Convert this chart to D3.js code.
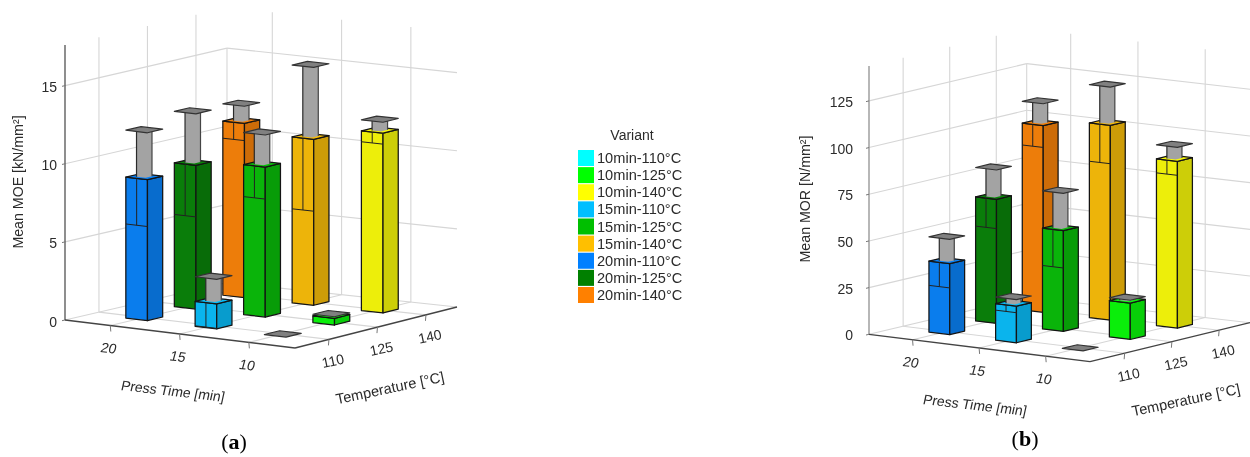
<!DOCTYPE html>
<html><head><meta charset="utf-8">
<style>html,body{margin:0;padding:0;background:#fff}svg{display:block;filter:blur(0.45px)}text{font-family:"Liberation Sans",Arial,sans-serif;fill:#2b2b2b}</style>
<script src="https://cdnjs.cloudflare.com/ajax/libs/d3/7.8.5/d3.min.js"></script>
</head><body><svg id="c" width="1250" height="457"></svg>
<script>
const pressTimes=[20,15,10];
const temperatures=[110,125,140];
const variantTimes=[10,10,10,15,15,15,20,20,20];
const variantTemps=[110,125,140,110,125,140,110,125,140];
const variantLabels=["10min-110°C","10min-125°C","10min-140°C","15min-110°C","15min-125°C","15min-140°C","20min-110°C","20min-125°C","20min-140°C"];
const variantColors=["#00ffff","#00ff00","#ffff00","#00bfff","#00bf00","#ffbf00","#0080ff","#008000","#ff8000"];
const moeMeans=[0,0.43,11.5,1.6,9.6,10.62,9.02,9.2,11.15];
const moeErrs=[0,0.1,0.7,1.57,2.05,4.6,3.0,3.3,1.1];
const morMeans=[0,19.5,89.3,19.6,54,104.3,38,66.5,100];
const morErrs=[0,1.5,7.5,3.5,20,20.5,13,15.7,11.7];
const moeTicks=[0,5,10,15];
const morTicks=[0,25,50,75,100,125];

const svg=d3.select("#c");
const gridCol="#d6d6d6",edge="#141414";
// faces are darkened and pulled slightly towards grey, as in the reference's lit 3D bars
const shade=(c,k)=>{const m=d3.rgb(d3.interpolateRgb(c,"#8a9a8a")(0.07));return d3.rgb(m.r*k,m.g*k,m.b*k).formatHex();};

function chart(o){
  const g=svg.append("g");
  const U=d3.scaleLinear().domain([23.27,6.67]).range([0,1]);
  const V=d3.scaleLinear().domain(o.tempDomain).range([0,1]);
  const Z=d3.scaleLinear().domain([0,o.zMax]).range([0,o.zPx]);
  const P=(u,v,z)=>{
    const ax=o.L[0]+u*(o.F[0]-o.L[0]),ay=o.L[1]+u*(o.F[1]-o.L[1]);
    const bx=o.B[0]+u*(o.R[0]-o.B[0]),by=o.B[1]+u*(o.R[1]-o.B[1]);
    return [ax+v*(bx-ax),ay+v*(by-ay)-Z(z)];
  };
  const line=(a,b,col,w)=>g.append("line").attr("x1",a[0]).attr("y1",a[1]).attr("x2",b[0]).attr("y2",b[1]).attr("stroke",col).attr("stroke-width",w);
  const poly=(p,f,s,w)=>g.append("polygon").attr("points",p.map(d=>d.join(",")).join(" ")).attr("fill",f).attr("stroke",s||"none").attr("stroke-width",w||1).attr("stroke-linejoin","round");
  // walls and floor grid
  o.ticks.forEach(t=>{line(P(0,0,t),P(0,1,t),gridCol,1.1);line(P(0,1,t),P(1,1,t),gridCol,1.1);});
  temperatures.forEach(t=>{const v=V(t);line(P(0,v,0),P(0,v,o.zMax),gridCol,1.1);line(P(0,v,0),P(1,v,0),gridCol,1.1);});
  pressTimes.forEach(t=>{const u=U(t);line(P(u,1,0),P(u,1,o.zMax),gridCol,1.1);line(P(u,0,0),P(u,1,0),gridCol,1.1);});
  line(P(0,1,0),P(0,1,o.ticks[o.ticks.length-1]),gridCol,1.1);
  // axes
  line(P(0,0,0),P(0,0,o.zMax),o.zAxisCol,o.zAxisW);
  line(P(0,0,0),P(1,0,0),"#444",1.3);
  line(P(1,0,0),P(1,1,0),"#444",1.3);
  o.ticks.forEach(t=>{
    const p=P(0,0,t);
    line([p[0]-3,p[1]+0.7],p,"#777",1);
    g.append("text").attr("x",p[0]-o.zGap).attr("y",p[1]+o.zDy).attr("text-anchor","end").attr("dominant-baseline","central").attr("font-size",14).text(t);
  });
  pressTimes.forEach(t=>{
    const p=P(U(t),0,0);
    line(p,[p[0]+0.5,p[1]+6],"#777",1);
    g.append("text").attr("transform",`translate(${p[0]-1.5},${p[1]+22.5}) rotate(7) skewX(-8)`).attr("text-anchor","middle").attr("dominant-baseline","central").attr("font-size",14).text(t);
  });
  temperatures.forEach(t=>{
    const p=P(1,V(t),0);
    line(p,[p[0]-0.5,p[1]+6],"#777",1);
    g.append("text").attr("transform",`translate(${p[0]+4},${p[1]+21.5}) rotate(-12)`).attr("text-anchor","middle").attr("dominant-baseline","central").attr("font-size",14).text(t);
  });
  g.append("text").attr("transform",`translate(${o.yTitle[0]},${o.yTitle[1]}) rotate(-90)`).attr("text-anchor","middle").attr("dominant-baseline","central").attr("font-size",14.2).text(o.yLabel);
  g.append("text").attr("transform",`translate(${o.xTitle[0]},${o.xTitle[1]}) rotate(6.5) skewX(-6)`).attr("text-anchor","middle").attr("dominant-baseline","central").attr("font-size",14).text("Press Time [min]");
  g.append("text").attr("transform",`translate(${o.tTitle[0]},${o.tTitle[1]}) rotate(-12)`).attr("text-anchor","middle").attr("dominant-baseline","central").attr("font-size",14.6).text("Temperature [°C]");
  // bars, back to front
  const hu=0.047,hv=0.047;
  const bars=variantLabels.map((l,i)=>({u:U(variantTimes[i]),v:V(variantTemps[i]),m:o.means[i],e:o.errs[i],c:variantColors[i]}))
    .sort((a,b)=>(b.v-b.u)-(a.v-a.u));
  bars.forEach(b=>{
    const {u,v,m,e,c}=b;
    const foot=(z,k=1)=>({l:P(u-hu*k,v-hv*k,z),f:P(u+hu*k,v-hv*k,z),r:P(u+hu*k,v+hv*k,z),b:P(u-hu*k,v+hv*k,z)});
    if(m>0){
      const t=foot(m),o0=foot(0);
      poly([o0.l,o0.f,t.f,t.l],shade(c,0.96),edge,1.25);
      poly([o0.f,o0.r,t.r,t.f],shade(c,0.83),edge,1.25);
      poly([t.l,t.f,t.r,t.b],shade(c,1),edge,1.25);
      const lo=Math.max(m-e,0);
      if(e>2*o.zMax/100){
        const a=P(u,v-hv,m),b2=P(u,v-hv,lo);
        line(a,b2,"#222",1);
        line(P(u-hu,v-hv,lo),P(u+hu,v-hv,lo),"#222",1);
      }
      const s0=foot(m,0.42),s1=foot(m+e,0.42);
      poly([s0.l,s0.f,s0.r,s1.r,s1.f,s1.l],"#a3a3a3");
      line(s0.l,s1.l,"#2a2a2a",1.2);
      line(s0.r,s1.r,"#444",1.2);
    }
    const cap=foot(m+e);
    poly([cap.l,cap.f,cap.r,cap.b],"#808080","#333",1.2);
  });
}

chart({L:[65,320],F:[295,348],R:[457,307],B:[227,282.5],tempDomain:[99.5,149.6],zMax:17.6,zPx:275,
  ticks:moeTicks,means:moeMeans,errs:moeErrs,yLabel:"Mean MOE [kN/mm²]",yTitle:[18,182],xTitle:[173,391],tTitle:[390,388],zGap:8,zDy:1.5,zAxisCol:"#444",zAxisW:1.2});
chart({L:[869,334.3],F:[1090,361.7],R:[1250,322.7],B:[1026.7,297],tempDomain:[99,149.8],zMax:143.75,zPx:268.4,
  ticks:morTicks,means:morMeans,errs:morErrs,yLabel:"Mean MOR [N/mm²]",yTitle:[805,199],xTitle:[975,405],tTitle:[1186,400],zGap:16,zDy:1,zAxisCol:"#999",zAxisW:1.4});

// legend
const leg=svg.append("g");
leg.append("text").attr("x",632).attr("y",135).attr("text-anchor","middle").attr("dominant-baseline","central").attr("font-size",14).text("Variant");
const rowY=d3.scaleLinear().domain([0,8]).range([158,295]);
variantLabels.forEach((l,i)=>{
  leg.append("rect").attr("x",578).attr("y",rowY(i)-8).attr("width",16).attr("height",16).attr("fill",variantColors[i]);
  leg.append("text").attr("x",597).attr("y",rowY(i)).attr("dominant-baseline","central").attr("font-size",14.6).text(l);
});
// captions
[["a",234,449],["b",1025,446]].forEach(([s,x,y])=>{
  const t=svg.append("text").attr("x",x).attr("y",y).attr("text-anchor","middle").attr("font-size",22).style("font-family","'Liberation Serif',serif").style("fill","#000");
  t.append("tspan").text("(");
  t.append("tspan").attr("font-weight","bold").text(s);
  t.append("tspan").text(")");
});
</script></body></html>
